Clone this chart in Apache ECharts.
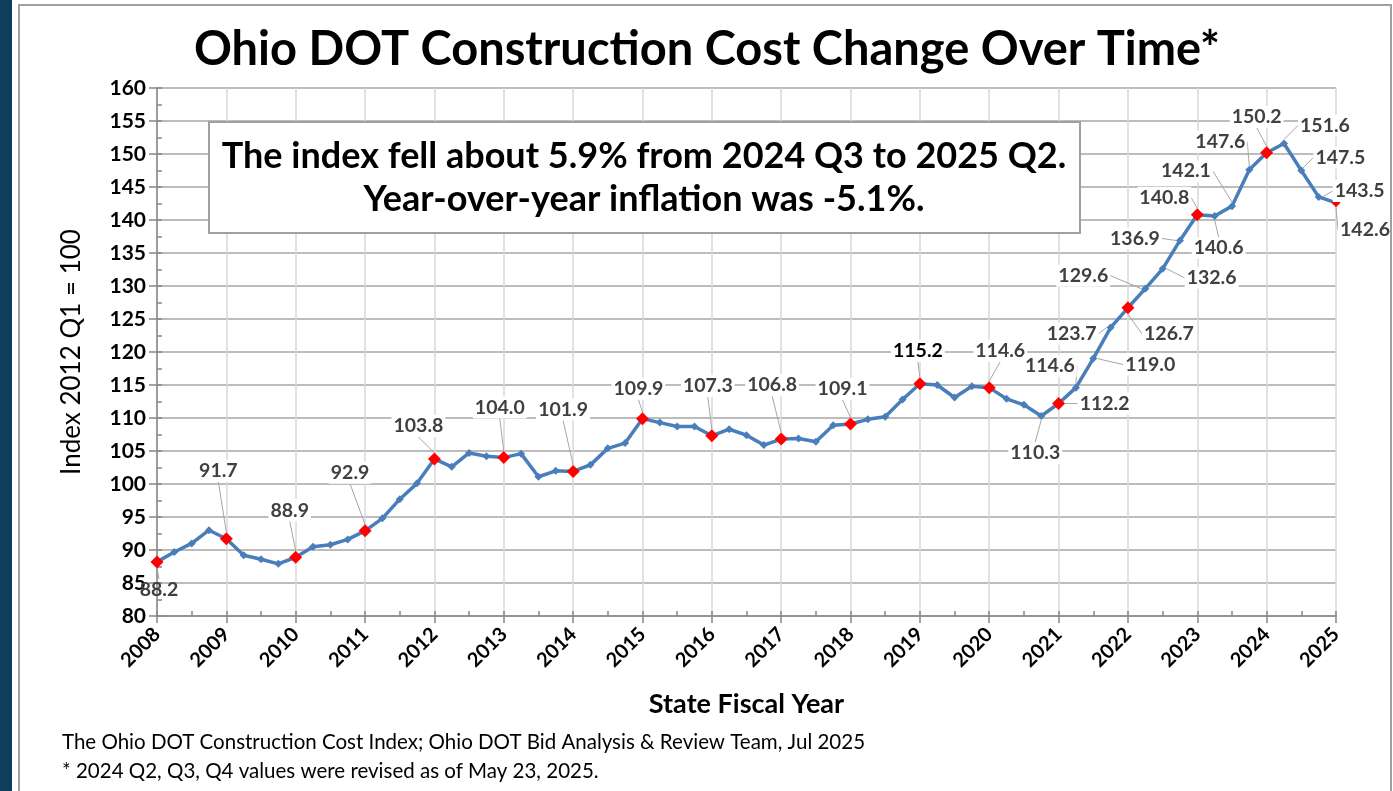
<!DOCTYPE html>
<html>
<head>
<meta charset="utf-8">
<title>Ohio DOT Construction Cost Change Over Time</title>
<script src="https://cdn.jsdelivr.net/npm/echarts@6/dist/echarts.min.js"></script>
<style>
  html, body { margin: 0; padding: 0; background: #fff; }
  #chart { width: 1393px; height: 791px; }
</style>
</head>
<body>
<div id="chart"></div>
<script>
// fiscal years on the x axis (each year has 4 quarterly readings)
const fiscalYears = [2008, 2009, 2010, 2011, 2012, 2013, 2014, 2015, 2016,
  2017, 2018, 2019, 2020, 2021, 2022, 2023, 2024, 2025]

// quarterly index values, 2012 Q1 = 100
const indexValues = [
  88.2, 89.7, 91.0, 93.0,
  91.7, 89.2, 88.6, 87.9,
  88.9, 90.5, 90.8, 91.6,
  92.9, 94.8, 97.7, 100.1,
  103.8, 102.6, 104.7, 104.2,
  104.0, 104.6, 101.1, 102.0,
  101.9, 102.9, 105.4, 106.2,
  109.9, 109.3, 108.7, 108.7,
  107.3, 108.3, 107.4, 105.9,
  106.8, 106.9, 106.4, 108.9,
  109.1, 109.8, 110.2, 112.8,
  115.2, 115.0, 113.1, 114.8,
  114.6, 112.9, 112.0, 110.3,
  112.2, 114.6, 119.0, 123.7,
  126.7, 129.6, 132.6, 136.9,
  140.8, 140.6, 142.1, 147.6,
  150.2, 151.6, 147.5, 143.5,
  142.6
]

// y axis ticks
const yMin = 80
const yMax = 160
const yStep = 5

// which points carry a value label, and where the label sits (dx, dy from the point)
const labelOffsets = {
  0: [2, 28], 4: [-8, -68], 8: [-6, -47], 12: [-15, -58], 16: [-16, -33],
  20: [-4, -50], 24: [-10, -62], 28: [-4, -30], 32: [-4, -50], 36: [-9, -54],
  40: [-8, -35], 44: [-2, -33], 48: [11, -37], 51: [-6, 37], 52: [46, 0],
  53: [-26, -22], 54: [57, 6], 55: [-39, 6], 56: [41, 26], 57: [-62, -13],
  58: [49, 9], 59: [-45, -2], 60: [-33, -17], 61: [4, 32], 62: [-46, -35],
  63: [-29, -28], 64: [-10, -36], 65: [41, -18], 66: [39, -13], 67: [41, -6],
  68: [29, 27]
}

const FONT = 'Lato, "Open Sans", sans-serif'

const chart = echarts.init(document.getElementById('chart'))

const seriesData = indexValues.map((v, i) => {
  const isYearStart = i % 4 === 0
  const isLast = i === indexValues.length - 1
  const item = { value: [fiscalYears[0] + i / 4, v] }
  if (isYearStart) {
    item.symbolSize = isLast ? 9 : 13
    item.itemStyle = { color: '#ff0000' }
  }
  if (labelOffsets[i]) {
    item.label = { show: true }
    if (i === 44) item.label.color = '#000'
    if (i === 0) item.label.backgroundColor = 'transparent'
  }
  return item
})

const boxText = { fontFamily: FONT, fontSize: 36, fontWeight: 'bold', fill: '#000',
  align: 'center', verticalAlign: 'middle' }

const option = {
  backgroundColor: '#fff',
  animation: false,
  title: {
    text: 'Ohio DOT Construction Cost Change Over Time*',
    left: 702,
    top: 21,
    textAlign: 'center',
    textStyle: { fontFamily: FONT, fontSize: 47, fontWeight: 'bold', color: '#000' }
  },
  grid: { left: 157, right: 57, top: 88, bottom: 175 },
  xAxis: [
    {
      type: 'value',
      min: fiscalYears[0],
      max: fiscalYears[fiscalYears.length - 1],
      interval: 1,
      name: 'State Fiscal Year',
      nameLocation: 'middle',
      nameGap: 75,
      nameTextStyle: { fontFamily: FONT, fontSize: 27, fontWeight: 'bold', color: '#000' },
      axisLine: { lineStyle: { color: '#868686', width: 1.5 } },
      axisTick: { length: 7, lineStyle: { color: '#868686', width: 1.5 } },
      axisLabel: {
        rotate: 45, margin: 15, formatter: v => String(v),
        fontFamily: FONT, fontSize: 20, fontWeight: 'bold', color: '#000'
      },
      splitLine: { show: true, lineStyle: { color: '#d9d9d9', width: 1.5 } }
    },
    {
      // half-year minor ticks pointing into the plot
      type: 'value',
      position: 'bottom',
      min: fiscalYears[0],
      max: fiscalYears[fiscalYears.length - 1],
      interval: 0.5,
      axisLine: { show: false },
      axisTick: { inside: true, length: 5, lineStyle: { color: '#868686', width: 1.5 } },
      axisLabel: { show: false },
      splitLine: { show: false }
    }
  ],
  yAxis: [
    {
      type: 'value',
      min: yMin,
      max: yMax,
      interval: yStep,
      name: 'Index 2012 Q1 = 100',
      nameLocation: 'middle',
      nameGap: 72,
      nameTextStyle: { fontFamily: FONT, fontSize: 26, color: '#000' },
      axisLine: { show: true, lineStyle: { color: '#868686', width: 1.5 } },
      axisTick: { show: true, length: 8, lineStyle: { color: '#868686', width: 1.5 } },
      axisLabel: { margin: 11, fontFamily: FONT, fontSize: 21, fontWeight: 'bold', color: '#000' },
      splitLine: { show: true, lineStyle: { color: '#a6a6a6', width: 1.5 } }
    },
    {
      type: 'value',
      position: 'left',
      min: yMin,
      max: yMax,
      interval: yStep / 2,
      axisLine: { show: false },
      axisTick: { show: true, inside: true, length: 5, lineStyle: { color: '#868686', width: 1.5 } },
      axisLabel: { show: false },
      splitLine: { show: false }
    }
  ],
  series: [
    {
      type: 'line',
      data: seriesData,
      symbol: 'diamond',
      symbolSize: 8,
      showAllSymbol: true,
      lineStyle: { color: '#4a7ebb', width: 3.5 },
      itemStyle: { color: '#4a7ebb' },
      z: 5,
      label: {
        show: false,
        position: 'inside',
        formatter: p => p.value[1].toFixed(1),
        fontFamily: FONT,
        fontSize: 19.5,
        fontWeight: 'bold',
        color: '#404040',
        backgroundColor: '#fff',
        padding: [1, 2]
      },
      labelLine: { show: true, lineStyle: { color: '#a6a6a6', width: 1 } },
      labelLayout: p => {
        const o = labelOffsets[p.dataIndex]
        return o ? { dx: o[0], dy: o[1] } : {}
      }
    }
  ],
  graphic: [
    // dark strip and frame around the slide
    { type: 'rect', z: 100, shape: { x: 0, y: 0, width: 12, height: 791 }, style: { fill: '#0f3d5e' } },
    { type: 'rect', z: 100, shape: { x: 19, y: 5, width: 1372, height: 800 },
      style: { fill: 'none', stroke: '#a0a0a0', lineWidth: 2 } },
    // annotation box
    { type: 'rect', z: 50, shape: { x: 209, y: 122, width: 871, height: 111 },
      style: { fill: '#fff', stroke: '#a0a0a0', lineWidth: 2 } },
    { type: 'text', z: 51, x: 644, y: 156,
      style: Object.assign({ text: 'The index fell about 5.9% from 2024 Q3 to 2025 Q2.' }, boxText) },
    { type: 'text', z: 51, x: 644, y: 199,
      style: Object.assign({ text: 'Year-over-year inflation was -5.1%.' }, boxText) },
    // footnotes
    { type: 'text', z: 51, x: 62, y: 742, style: {
      text: 'The Ohio DOT Construction Cost Index; Ohio DOT Bid Analysis & Review Team, Jul 2025',
      fontFamily: FONT, fontSize: 20.5, fill: '#000', verticalAlign: 'middle' } },
    { type: 'text', z: 51, x: 62, y: 771, style: {
      text: '* 2024 Q2, Q3, Q4 values were revised as of May 23, 2025.',
      fontFamily: FONT, fontSize: 20.5, fill: '#000', verticalAlign: 'middle' } }
  ]
}

chart.setOption(option)
</script>
</body>
</html>
